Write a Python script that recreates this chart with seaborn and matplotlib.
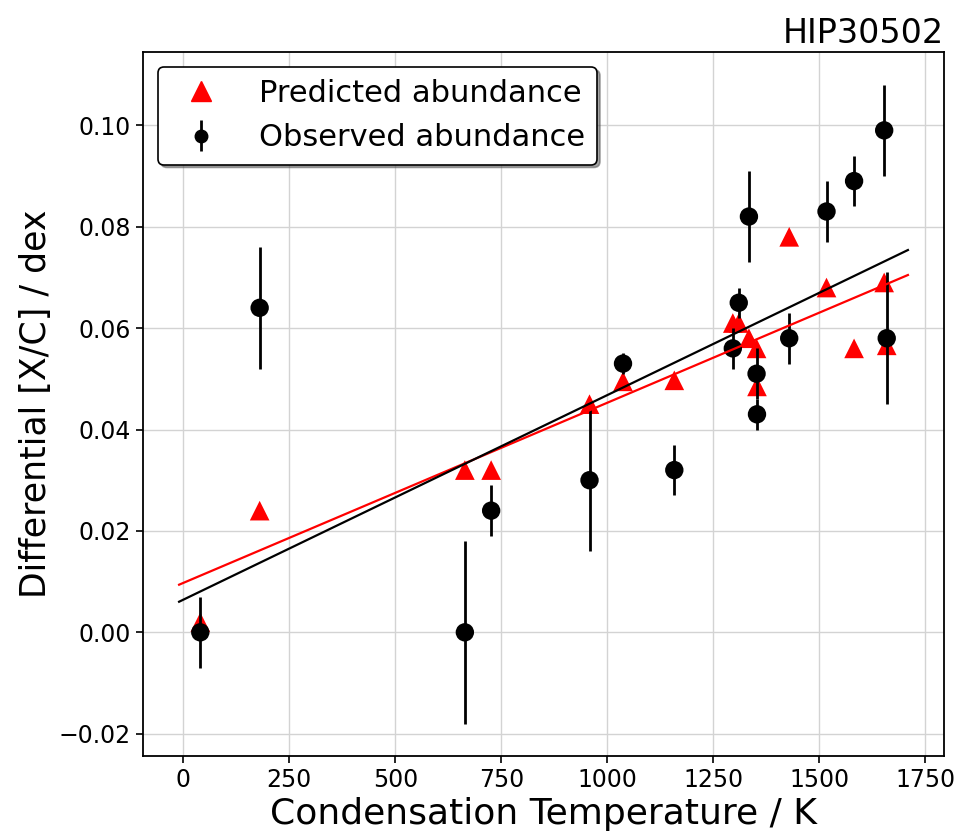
import numpy as np
import pandas as pd
import matplotlib
matplotlib.use("Agg")
import matplotlib.pyplot as plt
import seaborn as sns
from matplotlib.lines import Line2D

# ---- data ----
tc = [40, 180, 664, 726, 958, 1037, 1158, 1296, 1310, 1334, 1352, 1353, 1429, 1517, 1582, 1653, 1659]
observed = [0.000, 0.064, 0.000, 0.024, 0.030, 0.053, 0.032, 0.056, 0.065, 0.082, 0.051, 0.043,
            0.058, 0.083, 0.089, 0.099, 0.058]
observed_err = [0.007, 0.012, 0.018, 0.005, 0.014, 0.002, 0.005, 0.004, 0.003, 0.009, 0.005, 0.003,
                0.005, 0.006, 0.005, 0.009, 0.013]
predicted = [0.002, 0.024, 0.032, 0.032, 0.045, 0.0495, 0.0497, 0.061, 0.061, 0.058, 0.056, 0.0485,
             0.078, 0.068, 0.056, 0.069, 0.0566]
# linear fits: slope (dex/K), intercept (dex)
fit_observed = [4.035e-5, 0.00644]
fit_predicted = [3.553e-5, 0.00975]
star = "HIP30502"

df = pd.DataFrame({"tc": tc, "obs": observed, "err": observed_err, "pred": predicted})
xfit = np.linspace(min(tc) - 50, max(tc) + 50, 100)
fit_df = pd.DataFrame({
    "x": xfit,
    "obs_fit": fit_observed[0] * xfit + fit_observed[1],
    "pred_fit": fit_predicted[0] * xfit + fit_predicted[1],
})

plt.rcParams["font.family"] = ["DejaVu Sans"]
fig = plt.figure(figsize=(9.62, 8.36), dpi=100)
ax = fig.add_axes([0.1484, 0.0960, 0.9816 - 0.1484, 0.9382 - 0.0960])

sns.scatterplot(data=df, x="tc", y="pred", marker="^", color="red", s=200,
                edgecolor="none", ax=ax, legend=False, zorder=2)
eb = ax.errorbar(df["tc"], df["obs"], yerr=df["err"], fmt="o", color="black",
                 markersize=9, elinewidth=2, capsize=0, zorder=3)
sns.scatterplot(data=df, x="tc", y="obs", marker="o", color="black", s=175,
                edgecolor="none", ax=ax, legend=False, zorder=3.5)
sns.lineplot(data=fit_df, x="x", y="pred_fit", color="red", lw=1.6, ax=ax, zorder=4)
sns.lineplot(data=fit_df, x="x", y="obs_fit", color="black", lw=1.6, ax=ax, zorder=4)

ax.set_xlim(-95.7, 1794.8)
ax.set_ylim(-0.02434, 0.11452)
ax.set_yticks([-0.02, 0.00, 0.02, 0.04, 0.06, 0.08, 0.10])
ax.set_xticks([0, 250, 500, 750, 1000, 1250, 1500, 1750])
ax.grid(True, color="#d3d3d3", lw=1)
ax.set_axisbelow(True)
ax.tick_params(labelsize=17, length=5, width=1.2)
for sp in ax.spines.values():
    sp.set_linewidth(1.3)

ax.set_xlabel("Condensation Temperature / K", fontsize=26)
ax.set_ylabel("Differential [X/C] / dex", fontsize=25)
ax.set_title(star, loc="right", fontsize=24)

handles = [
    Line2D([], [], marker="^", color="red", linestyle="none", markersize=14),
    eb,
]
leg = ax.legend(handles, ["Predicted abundance", "Observed abundance"], loc="upper left",
                fontsize=22, shadow=True, fancybox=True, framealpha=1, edgecolor="black",
                handletextpad=0.9, borderaxespad=0.5)
leg.get_frame().set_linewidth(1.2)

fig.savefig("out.png", dpi=100)
